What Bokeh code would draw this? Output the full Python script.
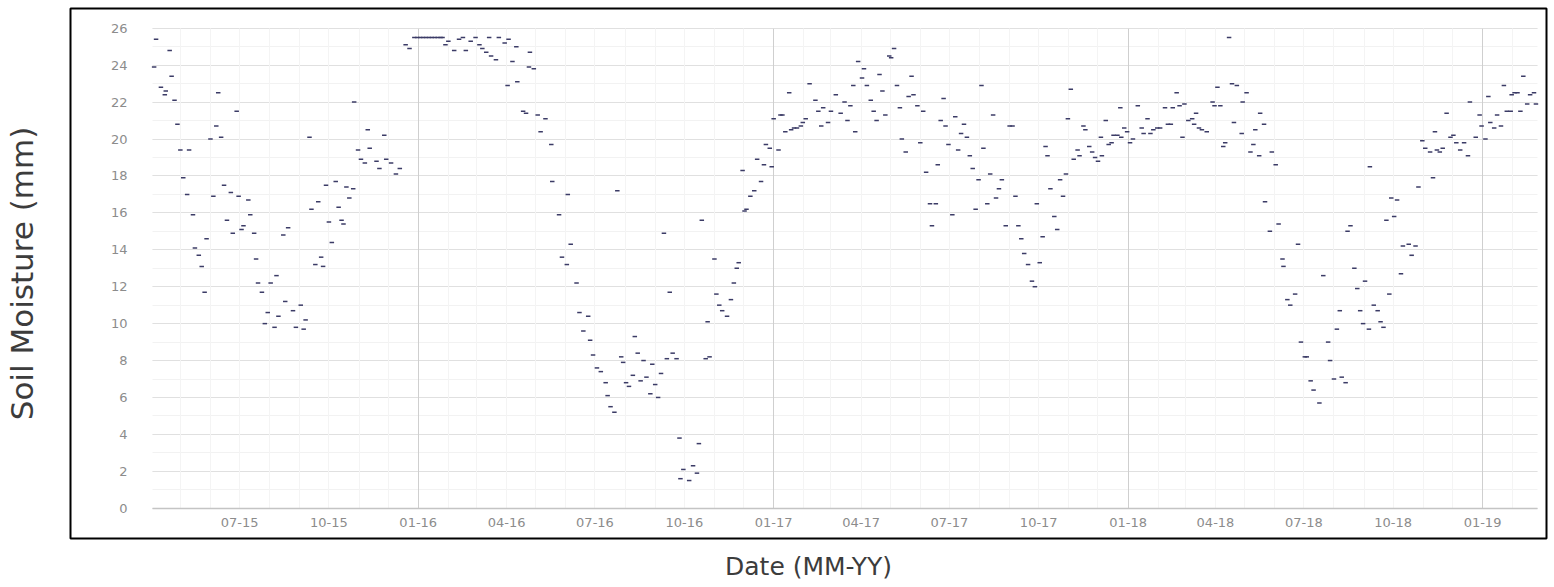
import datetime as dt
from bokeh.plotting import figure
from bokeh.models import (ColumnDataSource, DatetimeTickFormatter, MonthsTicker,
                          SingleIntervalTicker, FixedTicker, Grid, Range1d)
from bokeh.embed import file_html
from bokeh.resources import INLINE

# ---- data ----
start_date = dt.datetime(2015, 4, 1)
# days since 2015-04-01
day = [3, 5, 10, 14, 15, 19, 21, 24, 27, 30, 33, 37, 39, 43, 45, 49, 52, 55, 57, 61,
       64, 67, 69, 72, 75, 78, 82, 84, 88, 90, 93, 95, 100, 102, 106, 108, 110, 114, 117, 120,
       123, 127, 129, 131, 136, 138, 141, 146, 149, 154, 157, 159, 163, 165, 169, 172, 175, 177, 180, 183,
       186, 190, 193, 196, 198, 201, 204, 208, 209, 213, 216, 220, 223, 225, 232, 235, 240, 242, 247, 252,
       256, 262, 266, 271, 274, 277, 280, 283, 286, 289, 292, 295, 298, 300, 303, 306, 312, 317, 321, 324,
       329, 334, 338, 341, 345, 348, 350, 355, 358, 364, 367, 368, 372, 376, 377, 383, 386, 389, 390, 394,
       398, 401, 406, 412, 413, 420, 423, 428, 429, 432, 438, 441, 445, 450, 452, 455, 459, 463, 468, 470,
       473, 477, 480, 484, 486, 489, 492, 496, 498, 501, 504, 507, 510, 514, 516, 519, 522, 525, 528, 531,
       534, 537, 541, 544, 545, 548, 554, 558, 562, 564, 567, 571, 573, 575, 580, 582, 585, 588, 593, 597,
       600, 603, 605, 609, 611, 613, 617, 621, 624, 628, 631, 633, 637, 639, 641, 646, 648, 650, 653, 657,
       659, 662, 665, 669, 671, 674, 678, 684, 687, 690, 692, 697, 700, 705, 710, 714, 717, 720, 723, 725,
       728, 732, 734, 737, 741, 744, 747, 750, 753, 756, 760, 762, 765, 768, 771, 773, 777, 780, 783, 785,
       789, 792, 795, 798, 802, 804, 808, 810, 813, 816, 818, 821, 825, 828, 831, 834, 837, 840, 843, 846,
       849, 852, 855, 857, 861, 864, 867, 870, 873, 876, 880, 884, 887, 890, 893, 896, 899, 903, 907, 910,
       912, 915, 918, 921, 923, 926, 930, 933, 936, 939, 942, 944, 947, 950, 954, 956, 960, 962, 966, 969,
       972, 975, 978, 979, 983, 986, 989, 991, 995, 998, 999, 1002, 1005, 1008, 1011, 1016, 1020, 1022, 1026, 1029,
       1032, 1036, 1039, 1044, 1047, 1050, 1052, 1056, 1059, 1062, 1064, 1068, 1072, 1074, 1076, 1079, 1082, 1087, 1093, 1095,
       1098, 1101, 1104, 1106, 1110, 1113, 1115, 1118, 1123, 1124, 1128, 1132, 1135, 1137, 1141, 1142, 1146, 1147, 1152, 1154,
       1158, 1161, 1165, 1166, 1170, 1173, 1178, 1181, 1184, 1188, 1190, 1194, 1197, 1203, 1207, 1212, 1214, 1218, 1221, 1224,
       1226, 1230, 1232, 1235, 1239, 1242, 1245, 1248, 1250, 1254, 1255, 1259, 1263, 1266, 1269, 1272, 1275, 1277, 1280, 1283,
       1287, 1289, 1295, 1298, 1302, 1305, 1309, 1312, 1317, 1320, 1322, 1324, 1327, 1330, 1334, 1338, 1341, 1344, 1348, 1352,
       1356, 1358, 1364, 1368, 1370, 1374, 1377, 1379, 1383, 1386, 1390, 1393, 1396, 1400, 1401, 1404, 1407, 1410, 1413, 1417,
       1420, 1424, 1426]
moisture = [23.9, 25.4, 22.8, 22.4, 22.6, 24.8, 23.4, 22.1, 20.8, 19.4, 17.9, 17.0, 19.4, 15.9, 14.1, 13.7, 13.1, 11.7, 14.6, 20.0,
            16.9, 20.7, 22.5, 20.1, 17.5, 15.6, 17.1, 14.9, 21.5, 16.9, 15.1, 15.3, 16.7, 15.9, 14.9, 13.5, 12.2, 11.7, 10.0, 10.6,
            12.2, 9.8, 12.6, 10.4, 14.8, 11.2, 15.2, 10.7, 9.8, 11.0, 9.7, 10.2, 20.1, 16.2, 13.2, 16.6, 13.6, 13.1, 17.5, 15.5,
            14.4, 17.7, 16.3, 15.6, 15.4, 17.4, 16.8, 17.3, 22.0, 19.4, 18.9, 18.7, 20.5, 19.5, 18.8, 18.4, 20.2, 18.9, 18.7, 18.1,
            18.4, 25.1, 24.9, 25.5, 25.5, 25.5, 25.5, 25.5, 25.5, 25.5, 25.5, 25.5, 25.5, 25.5, 25.1, 25.3, 24.8, 25.4, 25.5, 24.8,
            25.3, 25.5, 25.1, 24.9, 24.7, 25.5, 24.5, 24.3, 25.5, 25.2, 22.9, 25.4, 24.2, 25.0, 23.1, 21.5, 21.4, 23.9, 24.7, 23.8,
            21.3, 20.4, 21.1, 19.7, 17.7, 15.9, 13.6, 13.2, 17.0, 14.3, 12.2, 10.6, 9.6, 10.4, 9.1, 8.3, 7.6, 7.4, 6.8, 6.1,
            5.5, 5.2, 17.2, 8.2, 7.9, 6.8, 6.6, 7.2, 9.3, 8.4, 6.9, 8.0, 7.1, 6.2, 7.8, 6.7, 6.0, 7.3, 14.9, 8.1,
            11.7, 8.4, 8.1, 3.8, 1.6, 2.1, 1.5, 2.3, 1.9, 3.5, 15.6, 8.1, 10.1, 8.2, 13.5, 11.6, 11.0, 10.7, 10.4, 11.3,
            12.2, 13.0, 13.3, 18.3, 16.1, 16.2, 16.9, 17.2, 18.9, 17.7, 18.6, 19.7, 19.5, 18.5, 21.1, 19.4, 21.3, 21.3, 20.4, 22.5,
            20.5, 20.6, 20.6, 20.7, 20.9, 21.1, 23.0, 22.1, 21.5, 20.7, 21.7, 20.9, 21.5, 22.4, 21.4, 22.0, 21.0, 21.8, 22.9, 20.4,
            24.2, 23.3, 23.8, 22.9, 22.1, 21.5, 21.0, 23.5, 22.6, 21.3, 24.5, 24.4, 24.9, 22.9, 21.7, 20.0, 19.3, 22.3, 23.4, 22.4,
            21.8, 19.8, 21.5, 18.2, 16.5, 15.3, 16.5, 18.6, 21.0, 22.2, 20.7, 19.7, 15.9, 21.2, 19.4, 20.3, 20.8, 20.1, 19.1, 18.4,
            16.2, 17.8, 22.9, 19.5, 16.5, 18.1, 21.3, 16.8, 17.3, 17.8, 15.3, 20.7, 20.7, 16.9, 15.3, 14.6, 13.8, 13.2, 12.3, 12.0,
            16.5, 13.3, 14.7, 19.6, 19.1, 17.3, 15.8, 15.1, 17.8, 16.9, 18.1, 21.1, 22.7, 18.9, 19.4, 19.1, 20.7, 20.5, 19.6, 19.3,
            19.0, 18.8, 20.1, 19.1, 21.0, 19.7, 19.8, 20.2, 20.2, 21.7, 20.1, 20.6, 20.4, 19.8, 20.0, 21.8, 20.6, 20.3, 21.1, 20.3,
            20.5, 20.6, 20.6, 21.7, 20.8, 20.8, 21.7, 22.5, 21.8, 20.1, 21.9, 21.0, 21.1, 20.8, 21.4, 20.6, 20.5, 20.4, 22.0, 21.8,
            22.8, 21.8, 19.6, 19.8, 25.5, 23.0, 20.9, 22.9, 20.3, 22.0, 22.5, 19.3, 19.7, 20.5, 19.1, 21.4, 20.8, 16.6, 15.0, 19.3,
            18.6, 15.4, 13.5, 13.1, 11.3, 11.0, 11.6, 14.3, 9.0, 8.2, 8.2, 6.9, 6.4, 5.7, 12.6, 9.0, 8.0, 7.0, 9.7, 10.7,
            7.1, 6.8, 15.0, 15.3, 13.0, 11.9, 10.7, 10.0, 12.3, 9.7, 18.5, 11.0, 10.7, 10.1, 9.8, 15.6, 11.6, 16.8, 15.8, 16.7,
            12.7, 14.2, 14.3, 13.7, 14.2, 17.4, 19.9, 19.5, 19.3, 17.9, 20.4, 19.4, 19.3, 19.5, 21.4, 20.1, 20.2, 19.8, 19.4, 19.8,
            19.1, 22.0, 20.1, 21.3, 20.7, 20.0, 22.3, 20.9, 20.6, 21.3, 20.7, 22.9, 21.5, 21.5, 22.4, 22.5, 22.5, 21.5, 23.4, 21.9,
            22.4, 22.5, 21.9]
y_min, y_max, y_step = 0, 26, 2
quarter_months = [0, 3, 6, 9]  # Jan, Apr, Jul, Oct (0-based)
x_label = "Date (MM-YY)"
y_label = "Soil Moisture (mm)"

dates = [start_date + dt.timedelta(days=d) for d in day]
src = ColumnDataSource(data=dict(date=dates, moisture=moisture))

# data window (inner area) and the framed box around it
data_x0 = dt.datetime(2015, 4, 2, 12)
data_x1 = dt.datetime(2019, 2, 27)
epoch = dt.datetime(1970, 1, 1)
ms = lambda t: (t - epoch).total_seconds() * 1000.0
x_start = dt.datetime(2015, 1, 7, 21)     # room for y tick labels inside the box
x_end = dt.datetime(2019, 3, 7, 21)
y_lo, y_hi = -1.64, 27.07                 # room for x tick labels inside the box

p = figure(width=1549, height=586, x_axis_type="datetime",
           output_backend="svg", toolbar_location=None,
           x_range=Range1d(x_start, x_end), y_range=Range1d(y_lo, y_hi),
           min_border_left=69, min_border_right=3, min_border_top=8, min_border_bottom=48)
p.outline_line_color = "black"
p.outline_line_width = 2
p.background_fill_color = "white"
p.border_fill_color = "white"

xb = (ms(data_x0), ms(data_x1))
yb = (y_min, y_max)

# x axis (tick labels drawn inside the box)
p.xaxis.ticker = MonthsTicker(months=quarter_months)
p.xaxis.formatter = DatetimeTickFormatter(days="%m-%y", months="%m-%y", years="%m-%y")
p.xaxis.bounds = xb
p.xaxis.major_tick_line_color = None
p.xaxis.minor_tick_line_color = None
p.xaxis.axis_line_color = None
p.xaxis.major_label_standoff = -27
p.xaxis.major_label_text_font = "DejaVu Sans"
p.xaxis.major_label_text_font_size = "13px"
p.xaxis.major_label_text_color = "#8c8c8c"
p.xaxis.axis_label = x_label
p.xaxis.axis_label_standoff = 22
p.xaxis.axis_label_text_font = "DejaVu Sans"
p.xaxis.axis_label_text_font_size = "25px"
p.xaxis.axis_label_text_font_style = "normal"
p.xaxis.axis_label_text_color = "#3c3c3c"

# y axis (tick labels drawn inside the box)
p.yaxis.ticker = SingleIntervalTicker(interval=y_step, num_minor_ticks=2)
p.yaxis.bounds = yb
p.yaxis.major_tick_line_color = None
p.yaxis.minor_tick_line_color = None
p.yaxis.axis_line_color = None
p.yaxis.major_label_standoff = -63
p.yaxis.major_label_text_font = "DejaVu Sans"
p.yaxis.major_label_text_font_size = "13px"
p.yaxis.major_label_text_color = "#8c8c8c"
p.yaxis.axis_label = y_label
p.yaxis.axis_label_standoff = 68
p.yaxis.axis_label_text_font = "DejaVu Sans"
p.yaxis.axis_label_text_font_size = "31px"
p.yaxis.axis_label_text_font_style = "normal"
p.yaxis.axis_label_text_color = "#3c3c3c"

# grids restricted to the data window
p.xgrid.grid_line_color = "#e6e6e6"
p.xgrid.bounds = xb
p.xgrid.cross_bounds = yb
p.ygrid.grid_line_color = "#e0e0e0"
p.ygrid.minor_grid_line_color = "#f2f2f2"
p.ygrid.bounds = yb
p.ygrid.cross_bounds = xb
p.add_layout(Grid(dimension=0, ticker=MonthsTicker(months=list(range(12))),
                  bounds=xb, cross_bounds=yb,
                  grid_line_color="#f4f4f4", level="underlay"))
p.add_layout(Grid(dimension=0, ticker=MonthsTicker(months=[0]),
                  bounds=xb, cross_bounds=yb,
                  grid_line_color="#cfcfcf", level="underlay"))
p.add_layout(Grid(dimension=1, ticker=FixedTicker(ticks=[0]),
                  bounds=yb, cross_bounds=xb,
                  grid_line_color="#c4c4c4", grid_line_width=1.5, level="underlay"))

p.scatter("date", "moisture", source=src, marker="dash", size=4.5,
          line_width=1.5, line_color="#3b3b66")

open("out.html", "w").write(file_html(p, INLINE))
